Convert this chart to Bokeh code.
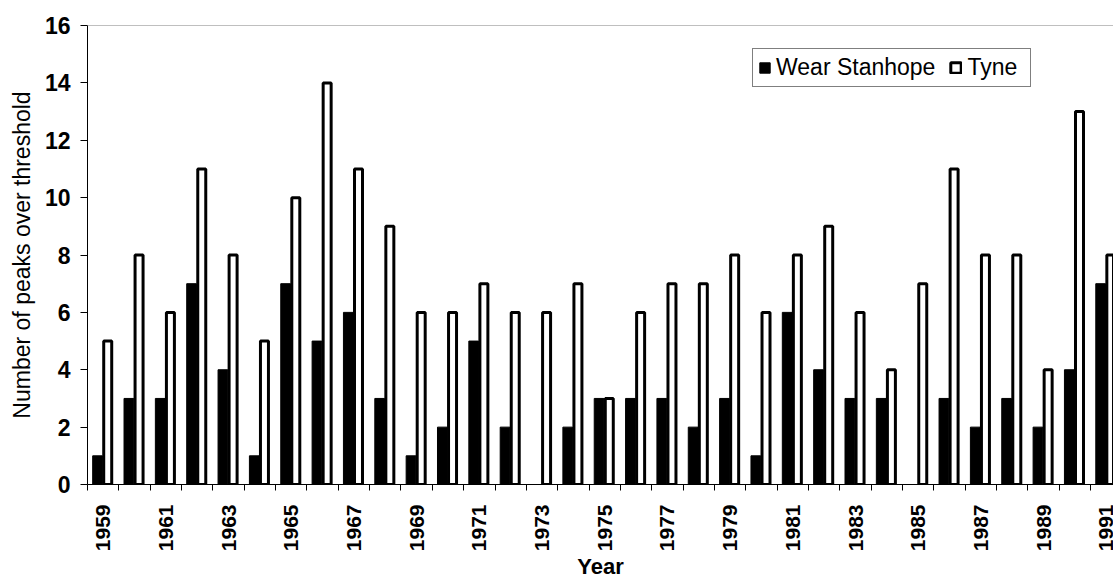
import math
from bokeh.plotting import figure
from bokeh.models import ColumnDataSource, FixedTicker, Range1d, Span, Legend, LegendItem
from bokeh.transform import dodge
from bokeh.embed import file_html
from bokeh.resources import INLINE

years = list(range(1959, 1992))
wear_stanhope = [1, 3, 3, 7, 4, 1, 7, 5, 6, 3, 1, 2, 5, 2, 0, 2, 3, 3, 3, 2, 3, 1, 6, 4, 3, 3, 0, 3, 2, 3, 2, 4, 7]
tyne = [5, 8, 6, 11, 8, 5, 10, 14, 11, 9, 6, 6, 7, 6, 6, 7, 3, 6, 7, 7, 8, 6, 8, 9, 6, 4, 7, 11, 8, 8, 4, 13, 8]
tick_years = [y for y in years if y % 2 == 1]
y_ticks = list(range(0, 17, 2))

FONT = "Liberation Sans"

src = ColumnDataSource(dict(year=years, wear=wear_stanhope, tyne=tyne))

p = figure(width=1113, height=582, output_backend="svg", toolbar_location=None,
           x_range=Range1d(1958.5, 1991.23), y_range=Range1d(0, 16),
           min_border_left=87, min_border_right=0, min_border_top=25, min_border_bottom=97)
p.outline_line_color = None
p.xgrid.visible = False
p.ygrid.visible = False
p.background_fill_color = "white"
p.border_fill_color = "white"

r1 = p.vbar(x=dodge("year", -0.18, range=p.x_range), top="wear", width=0.31, source=src,
            fill_color="black", line_color="black", line_width=1)
r2 = p.vbar(x=dodge("year", 0.145, range=p.x_range), top="tyne", width=0.255, source=src,
            fill_color="white", line_color="black", line_width=3)

p.add_layout(Span(location=16, dimension="width", line_color="#808080", line_width=1))

# x axis
xa = p.xaxis[0]
xa.ticker = FixedTicker(ticks=tick_years, minor_ticks=[y - 0.5 for y in years] + [years[-1] + 0.5])
xa.major_tick_line_color = None
xa.major_tick_out = 6
xa.major_tick_in = 0
xa.minor_tick_line_color = "black"
xa.minor_tick_out = 6
xa.minor_tick_in = 0
xa.major_label_orientation = math.pi / 2
xa.major_label_standoff = 14
xa.major_label_text_font = FONT
xa.major_label_text_font_size = "21px"
xa.major_label_text_font_style = "bold"
xa.major_label_text_color = "black"
xa.axis_line_color = "black"
xa.axis_label = "Year"
xa.axis_label_text_font = FONT
xa.axis_label_text_font_size = "22px"
xa.axis_label_text_font_style = "bold"
xa.axis_label_text_color = "black"
xa.axis_label_standoff = 0

# y axis
ya = p.yaxis[0]
ya.ticker = FixedTicker(ticks=y_ticks)
ya.major_tick_out = 7
ya.major_tick_in = 0
ya.major_tick_line_color = "black"
ya.minor_tick_line_color = None
ya.major_label_standoff = 10
ya.major_label_text_font = FONT
ya.major_label_text_font_size = "23px"
ya.major_label_text_font_style = "bold"
ya.major_label_text_color = "black"
ya.axis_line_color = "black"
ya.axis_label = "Number of peaks over threshold"
ya.axis_label_text_font = FONT
ya.axis_label_text_font_size = "23px"
ya.axis_label_text_font_style = "normal"
ya.axis_label_text_color = "black"
ya.axis_label_standoff = 7

legend = Legend(items=[LegendItem(label="Wear Stanhope", renderers=[r1]),
                       LegendItem(label="Tyne", renderers=[r2])],
                orientation="horizontal", location=(665, 397),
                label_text_font=FONT, label_text_font_size="23px", label_text_color="black",
                glyph_width=13, glyph_height=13, label_standoff=5, spacing=14,
                label_width=58, padding=5, margin=0,
                border_line_color="black", border_line_width=1,
                background_fill_color="white", background_fill_alpha=1.0)
p.add_layout(legend)

open("out.html", "w").write(file_html(p, INLINE))
